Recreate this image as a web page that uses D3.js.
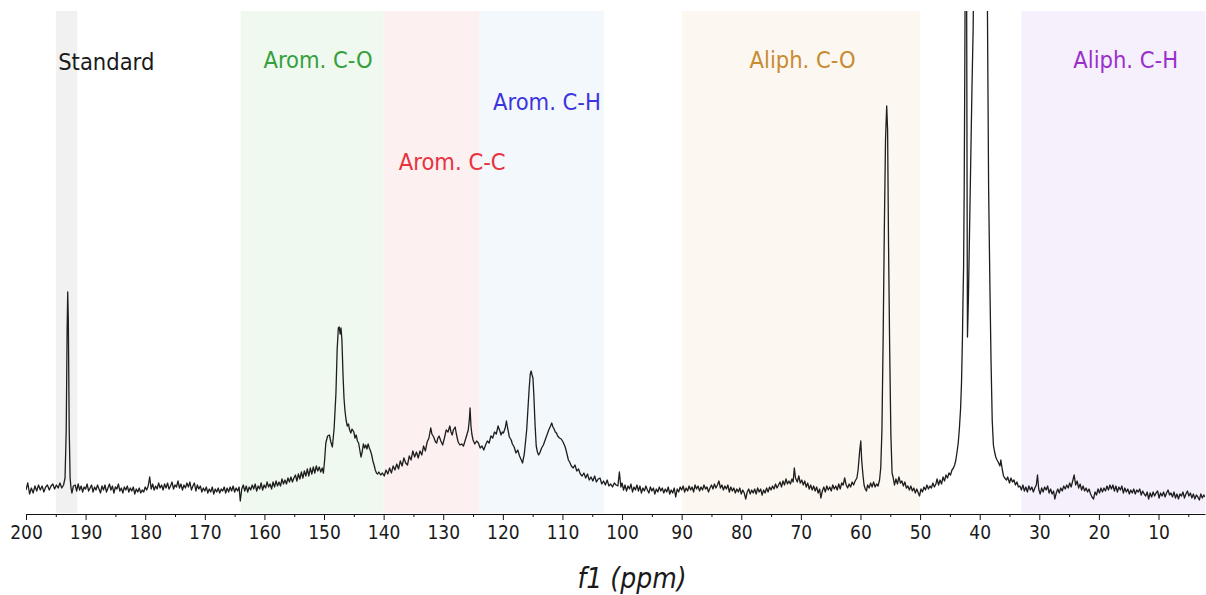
<!DOCTYPE html>
<meta charset="utf-8">
<style>
body {
  margin: 0;
  background: #fff;
}
svg text {
  font-family: 'DejaVu Sans Condensed', 'DejaVu Sans', sans-serif;
  font-stretch: condensed;
}
.axis .domain {
  stroke: #111;
  stroke-width: 1.2;
}
.axis line {
  stroke: #111;
}
.axis text {
  font-size: 19px;
  fill: #1a1a1a;
}
.spectrum {
  fill: none;
  stroke: #1e1e1e;
  stroke-width: 1.3;
  stroke-linejoin: round;
}
</style>
<body>
<div id="chart"></div>
<script src="https://d3js.org/d3.v7.min.js"></script>
<script>
// chemical shift regions (ppm)
var regionNames = ["Standard", "Arom. C-O", "Arom. C-C", "Arom. C-H", "Aliph. C-O", "Aliph. C-H"];
var regionFrom = [195, 164, 140, 124, 90, 33];
var regionTo = [191.4, 140, 124, 103, 50, 2.2];
var regionLabelPpm = [194.6, 151, 128.5, 112.6, 69.7, 15.5];

var majorTicks = [200, 190, 180, 170, 160, 150, 140, 130, 120, 110, 100, 90, 80, 70, 60, 50, 40, 30, 20, 10];
var minorTicks = [195, 185, 175, 165, 155, 145, 135, 125, 115, 105, 95, 85, 75, 65, 55, 45, 35, 25, 15, 5];

// spectrum, [ppm, intensity]
var downfield = [[200,0],[199.7,7],[199.4,-4],[199.1,2],[198.8,-3],[198.5,4],[198.2,-1],[197.9,5],[197.6,0],[197.3,4],[197,-2],[196.7,3],[196.4,5],[196.1,0],[195.8,4],[195.5,6],[195.2,1],[194.9,5],[194.6,2],[194.3,7],[194,2],[193.7,5],[193.45,12],[193.25,60],[193.1,160],[193.0,198],[192.9,170],[192.75,60],[192.6,12],[192.45,2],[192.3,-3],[192.05,4],
[191.75,5],[191.5,-1],[191.25,6],[191,0],[190.75,4],[190.5,-2],[190.25,3],[190,1],[189.75,6],[189.5,-1],[189.25,2],[189,5],[188.75,-2],[188.5,3],[188.25,0],[188,5],[187.75,1],[187.5,-3],[187.25,4],[187,0],[186.75,5],[186.5,-2],[186.25,2],[186,6],[185.75,0],[185.5,4],[185.25,-3],[185,3],[184.75,1],[184.5,6],[184.25,-1],[184,2],[183.75,-3],[183.5,3],[183.25,0],[183,4],[182.75,-2],[182.5,2],[182.25,-1],[182,3],[181.75,-4],[181.5,1],[181.25,-2],[181,2],[180.75,-3],[180.5,0],[180.25,-2],[180,3],[179.75,0],[179.5,4],[179.25,13],[179,1],[178.75,6],[178.5,0],[178.25,4],[178,1],[177.75,7],[177.5,2],[177.25,5],[177,0],[176.75,6],[176.5,2],[176.25,7],[176,1],[175.75,4],[175.5,8],[175.25,1],[175,5],[174.75,3],[174.5,9],[174.25,2],[174,6],[173.75,0],[173.5,5],[173.25,2],[173,7],[172.75,3],[172.5,8],[172.25,0],[172,4],[171.75,7],[171.5,-1],[171.25,5],[171,1],[170.75,4],[170.5,-2],[170.25,2],[170,-1],[169.75,3],[169.5,-3],[169.25,1],[169,-2],[168.75,3],[168.5,-4],[168.25,1],[168,-2],[167.75,2],[167.5,-3],[167.25,1],[167,-1],[166.75,3],[166.5,-3],[166.25,2],[166,-2],[165.75,3],[165.5,-1],[165.25,4],[165,-2],[164.75,2],[164.5,-1],[164.25,3],[164.05,-11],
[163.8,1],[163.55,5],[163.3,-1],[163.05,4],[162.8,-2],[162.55,3],[162.3,0],[162.05,5],[161.8,1],[161.55,6],[161.3,-1],[161.05,4],[160.8,1],[160.55,7],[160.3,0],[160.05,5],[159.8,2],[159.55,8],[159.3,3],[159.05,6],[158.8,1],[158.55,8],[158.3,3],[158.05,9],[157.8,4],[157.55,8],[157.3,4],[157.05,11],[156.8,6],[156.55,10],[156.3,6],[156.05,12],[155.8,8],[155.55,13],[155.3,8],[155.05,12],[154.8,15],[154.55,9],[154.3,16],[154.05,11],[153.8,18],[153.55,12],[153.3,19],[153.05,14],[152.8,21],[152.55,14],[152.3,22],[152.05,16],[151.8,23],[151.55,17],[151.3,24],[151.05,19],[150.8,23],[150.55,18],[150.3,22],[150.1,17]];

var aromatic = [[149.9,30],[149.7,47],[149.4,54],[149.1,55],[148.85,48],[148.6,43],[148.3,62],[148.0,97],[147.8,140],[147.6,162],[147.45,163],[147.3,156],[147.15,162],[147.0,150],[146.8,113],[146.65,92],[146.5,80],[146.3,70],[146.1,64],[145.9,66],[145.7,60],[145.5,57],[145.3,61],[145.0,58],[144.8,52],[144.6,55],[144.4,49],[144.2,47],[144.0,40],[143.8,33],[143.6,38],[143.4,46],[143.2,42],[143.0,45],[142.8,41],[142.6,46],[142.4,42],[142.2,39],[142.0,35],[141.8,29],[141.6,25],[141.4,20],[141.2,17],[141.0,16],[140.8,18],[140.5,15],[140.2,17],[139.9,14],[139.6,20],[139.3,16],[139.0,22],[138.7,17],[138.4,24],[138.1,20],[137.8,26],[137.5,21],[137.2,29],[136.9,24],[136.6,32],[136.3,27],[136.0,25],[135.7,34],[135.4,30],[135.1,39],[134.8,33],[134.5,38],[134.2,32],[133.9,39],[133.6,35],[133.3,44],[133.0,39],[132.7,48],[132.4,52],[132.1,62],[131.9,56],[131.6,53],[131.3,48],[131.1,47],[130.9,52],[130.7,54],[130.4,49],[130.1,45],[129.8,52],[129.5,60],[129.2,58],[128.9,64],[128.7,58],[128.5,55],[128.3,60],[128.0,63],[127.8,56],[127.5,48],[127.2,45],[126.9,46],[126.6,44],[126.3,50],[126.0,56],[125.8,60],[125.6,72],[125.5,82],[125.35,64],[125.2,56],[125.0,50],[124.7,46],[124.4,49],[124.1,47],[123.8,42],[123.5,44],[123.2,40],[122.9,45],[122.6,49],[122.3,47],[122.0,54],[121.7,52],[121.4,58],[121.1,56],[120.8,64],[120.5,59],[120.3,55],[120.1,58],[119.9,57],[119.6,62],[119.4,69],[119.2,62],[118.9,53],[118.6,50],[118.4,46],[118.1,43],[117.8,37],[117.5,40],[117.2,34],[116.9,30],[116.7,27],[116.4,36],[116.2,48],[116.0,60],[115.8,80],[115.6,100],[115.4,116],[115.25,119],[115.1,115],[114.95,112],[114.8,95],[114.6,66],[114.4,44],[114.2,38],[114.0,35],[113.8,37],[113.5,42],[113.2,45],[112.9,50],[112.6,55],[112.3,60],[112.0,64],[111.8,67],[111.6,63],[111.4,61],[111.2,58],[111.0,57],[110.8,54],[110.5,52],[110.2,51],[109.9,48],[109.6,44],[109.4,40],[109.2,35],[109.0,30],[108.8,28],[108.5,24],[108.2,22],[107.9,25],[107.6,19],[107.3,21],[107.0,16],[106.7,14],[106.4,17],[106.1,12],[105.8,16],[105.5,10],[105.2,13],[104.9,9],[104.6,14],[104.3,8],[104.0,11],[103.7,12],[103.4,6],[103.1,9],[102.8,5],[102.5,10],[102.2,4],[101.9,6],[101.6,3],[101.3,7],[101.0,5]];

var aliphatic = [[100.7,4],[100.45,18],[100.2,3],[100,7],[99.75,0],[99.5,5],[99.25,-1],[99,4],[98.75,1],[98.5,6],[98.25,-2],[98,3],[97.75,0],[97.5,5],[97.25,-1],[97,4],[96.75,-3],[96.5,2],[96.25,-1],[96,4],[95.75,0],[95.5,-3],[95.25,3],[95,-1],[94.75,2],[94.5,-4],[94.25,1],[94,-2],[93.75,3],[93.5,-1],[93.25,2],[93,-3],[92.75,1],[92.5,-2],[92.25,3],[92,-4],[91.75,0],[91.5,-3],[91.25,2],[91,-7],[90.75,1],[90.5,-2],[90.25,3],[90,0],[89.75,4],[89.5,-2],[89.25,2],[89,-1],[88.75,4],[88.5,0],[88.25,3],[88,-2],[87.75,5],[87.5,1],[87.25,4],[87,-1],[86.75,3],[86.5,0],[86.25,5],[86,1],[85.75,3],[85.5,-2],[85.25,2],[85,5],[84.75,1],[84.5,6],[84.25,2],[84,5],[83.75,9],[83.5,2],[83.25,5],[83,0],[82.75,4],[82.5,1],[82.25,5],[82,-2],[81.75,3],[81.5,-1],[81.25,2],[81,-3],[80.75,1],[80.5,-2],[80.25,2],[80,-4],[79.75,0],[79.5,-3],[79.25,-9],[79,-2],[78.75,1],[78.5,-4],[78.25,0],[78,-3],[77.75,1],[77.5,-4],[77.25,2],[77,-2],[76.75,1],[76.5,-5],[76.25,0],[76,-3],[75.75,2],[75.5,-2],[75.25,3],[75,0],[74.75,4],[74.5,1],[74.25,6],[74,2],[73.75,5],[73.5,8],[73.25,3],[73,9],[72.75,5],[72.5,11],[72.25,6],[72,9],[71.75,6],[71.5,11],[71.3,8],[71.1,22],[70.9,12],[70.6,8],[70.35,14],[70.1,7],[69.85,10],[69.6,5],[69.35,9],[69.1,3],[68.85,7],[68.6,1],[68.35,5],[68.1,0],[67.85,4],[67.6,-1],[67.35,3],[67.1,-3],[66.85,1],[66.65,-8],[66.4,-1],[66.15,3],[65.9,-2],[65.65,4],[65.4,0],[65.15,3],[64.9,-1],[64.65,5],[64.4,1],[64.15,4],[63.9,0],[63.65,6],[63.4,1],[63.15,7],[62.9,5],[62.65,12],[62.4,5],[62.15,2],[61.9,6],[61.65,3],[61.4,8],[61.15,5],[60.9,9],[60.6,12],[60.4,20],[60.15,38],[59.95,49],[59.8,30],[59.6,16],[59.4,5],[59.2,1],[59.0,-1],[58.8,5],[58.55,2],[58.3,7],[58.05,3],[57.8,8],[57.55,3],[57.3,6],[57.05,4],[56.8,10],[56.6,22],[56.4,60],[56.2,150],[56.0,260],[55.8,350],[55.6,384],[55.45,360],[55.3,250],[55.1,140],[54.9,55],[54.7,17],[54.5,12],[54.3,5],[54.05,11],[53.8,6],[53.55,13],[53.3,7],[53.05,9],[52.8,4],[52.55,8],[52.3,2],[52.05,4],[51.8,0],[51.55,4],[51.3,-1],[51.05,2],[50.8,-3],[50.55,1],[50.3,-3],[50.1,-6],[49.85,1],[49.6,-2],[49.35,3],[49.1,0],[48.85,5],[48.6,1],[48.35,4],[48.1,2],[47.85,7],[47.6,3],[47.35,6],[47.15,11],[46.9,5],[46.65,10],[46.4,6],[46.15,13],[45.9,9],[45.65,15],[45.4,12],[45.15,17],[44.9,15],[44.65,20],[44.4,22]];

var solvent = [[44.2,25],[44.0,30],[43.8,38],[43.6,47],[43.4,62],[43.2,82],[43.05,107],[42.9,150],[42.8,190],[42.7,223],[42.6,300],[42.5,420],[42.4,560],[42.3,700],[42.2,520],[42.1,260],[42.05,153],[41.9,190],[41.7,260],[41.5,330],[41.3,400],[41.1,460],[41.0,520],[40.8,700],[40.5,900],[40.0,1200],[39.5,1400],[39.0,1000],[38.9,700],[38.7,480],[38.5,300],[38.3,210],[38.1,130],[37.9,70],[37.7,45],[37.5,38],[37.3,33],[37.1,30],[36.9,28],[36.6,24],[36.45,30],[36.2,20],[36.0,14],[35.8,12],[35.5,10]];

var upfield = [[35.3,13],[35.0,7],[34.75,12],[34.5,8],[34.25,10],[34.0,5],[33.75,8],[33.5,3],[33.25,4],[33,0],[32.75,5],[32.5,-1],[32.25,3],[32,-2],[31.75,4],[31.5,0],[31.25,3],[31,-2],[30.75,2],[30.5,5],[30.3,15],[30.1,1],[29.85,-4],[29.6,2],[29.35,-2],[29.1,3],[28.85,0],[28.6,4],[28.35,-3],[28.1,1],[27.85,-4],[27.6,-1],[27.4,-9],[27.15,-3],[26.9,1],[26.65,-3],[26.4,2],[26.15,-1],[25.9,4],[25.65,1],[25.4,5],[25.15,2],[24.9,7],[24.65,3],[24.4,9],[24.15,15],[23.9,5],[23.65,9],[23.4,2],[23.15,6],[22.9,0],[22.65,4],[22.4,-1],[22.15,2],[21.9,-2],[21.65,1],[21.4,-4],[21.15,-7],[20.9,-9],[20.65,-2],[20.4,-5],[20.15,1],[19.9,-3],[19.65,2],[19.4,-2],[19.15,2],[18.9,-1],[18.65,4],[18.4,0],[18.15,5],[17.9,1],[17.65,5],[17.4,-1],[17.15,4],[16.9,-2],[16.65,3],[16.4,0],[16.15,4],[15.9,-3],[15.65,2],[15.4,-2],[15.15,1],[14.9,-4],[14.65,0],[14.4,-3],[14.15,1],[13.9,-4],[13.65,0],[13.4,-2],[13.15,1],[12.9,-5],[12.65,-1],[12.4,-4],[12.15,-6],[11.9,-2],[11.65,-9],[11.4,-3],[11.15,-7],[10.9,-2],[10.65,-6],[10.4,-3],[10.15,-1],[9.9,-8],[9.65,-3],[9.4,-6],[9.15,-2],[8.9,-7],[8.65,-3],[8.4,0],[8.15,-5],[7.9,-3],[7.65,-7],[7.4,-2],[7.15,-8],[6.9,-4],[6.65,-9],[6.4,-4],[6.15,-6],[5.9,-2],[5.65,-8],[5.4,-4],[5.15,-1],[4.9,-6],[4.65,-3],[4.4,-8],[4.15,-4],[3.9,-9],[3.65,-5],[3.4,-7],[3.15,-10],[2.9,-4],[2.65,-8],[2.4,-5],[2.2,-7]];

var spectrum = downfield.concat(aromatic, aliphatic, solvent, upfield);

// region colours
var bandColors = ["#f1f1f1", "#eff9ef", "#fdf0f1", "#f3f8fc", "#fcf8f1", "#f6f0fd"];
var labelColors = ["#1a1a1a", "#35a03c", "#e8323e", "#3c34dc", "#c98a32", "#9a2fcb"];
var labelTop = [62, 60, 162, 102, 60, 60];

var width = 1206,
    height = 595;

var plotTop = 11, plotBottom = 513;

var x = d3.scaleLinear()
    .domain([200, 2.2])
    .range([26, 1205]);

var y = d3.scaleLinear()
    .domain([-23, 479])
    .range([plotBottom, plotTop]);

var svg = d3.select("#chart").append("svg")
    .attr("width", width)
    .attr("height", height);

svg.append("defs").append("clipPath")
    .attr("id", "plot-clip")
  .append("rect")
    .attr("x", x(200))
    .attr("y", plotTop)
    .attr("width", x(2.2) - x(200))
    .attr("height", plotBottom - plotTop);

// shaded regions
svg.append("g")
  .selectAll("rect")
    .data(regionNames)
  .enter().append("rect")
    .attr("x", function(d, i) { return x(regionFrom[i]); })
    .attr("y", plotTop)
    .attr("width", function(d, i) { return x(regionTo[i]) - x(regionFrom[i]); })
    .attr("height", plotBottom - plotTop)
    .style("fill", function(d, i) { return bandColors[i]; });

// region labels
svg.append("g")
  .selectAll("text")
    .data(regionNames)
  .enter().append("text")
    .attr("x", function(d, i) { return x(regionLabelPpm[i]); })
    .attr("y", function(d, i) { return labelTop[i]; })
    .attr("dy", "0.36em")
    .attr("text-anchor", function(d, i) { return i === 0 ? "start" : "middle"; })
    .style("font-size", "23.5px")
    .style("fill", function(d, i) { return labelColors[i]; })
    .text(function(d) { return d; });

// spectrum trace
var line = d3.line()
    .x(function(d) { return x(d[0]); })
    .y(function(d) { return y(d[1]); });

svg.append("path")
    .datum(spectrum)
    .attr("class", "spectrum")
    .attr("clip-path", "url(#plot-clip)")
    .attr("d", line);

// x axis
svg.append("g")
    .attr("class", "axis")
    .attr("transform", "translate(0," + (plotBottom + 1) + ")")
    .call(d3.axisBottom(x).tickValues(majorTicks).tickSize(6).tickSizeOuter(0).tickPadding(6).tickFormat(d3.format("d")));

svg.append("g")
    .attr("class", "axis minor")
    .attr("transform", "translate(0," + (plotBottom + 1) + ")")
    .call(d3.axisBottom(x).tickValues(minorTicks).tickSize(3).tickSizeOuter(0).tickFormat(""))
    .select(".domain").remove();

svg.append("text")
    .attr("x", 632)
    .attr("y", 578)
    .attr("dy", "0.36em")
    .attr("text-anchor", "middle")
    .style("font-size", "28px")
    .style("font-style", "italic")
    .style("fill", "#1a1a1a")
    .text("f1 (ppm)");
</script>
</body>
